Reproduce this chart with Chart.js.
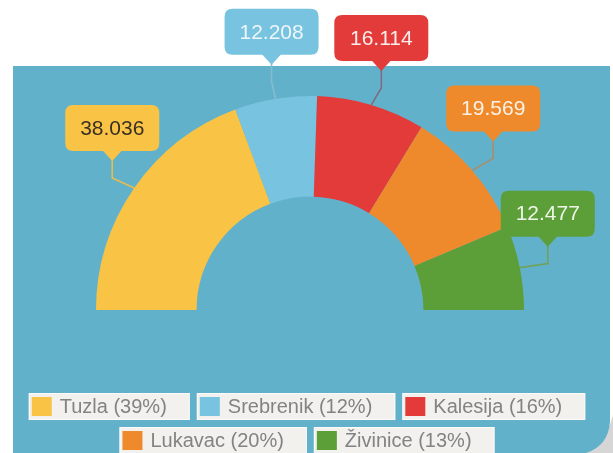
<!DOCTYPE html>
<html>
<head>
<meta charset="utf-8">
<title>Half doughnut</title>
<script src="https://cdn.jsdelivr.net/npm/chart.js@4/dist/chart.umd.min.js"></script>
<style>
  html, body { margin: 0; padding: 0; background: #fff; }
  #wrap { width: 613px; height: 453px; position: relative; }
</style>
</head>
<body>
<div id="wrap"><canvas id="chart1"></canvas></div>
<script>
// -------- DATA --------
const labels = ['Tuzla', 'Srebrenik', 'Kalesija', 'Lukavac', 'Živinice'];
const values = [38.036, 12.208, 16.114, 19.569, 12.477];
const valueLabels = ['38.036', '12.208', '16.114', '19.569', '12.477'];

// -------- STYLE --------
const colors = ['#F9C445', '#77C3E0', '#E33B3A', '#EE8A2B', '#5C9E38'];
const lineColors = ['#E5BC52', '#86BBCE', '#7E6C84', '#A98D6A', '#6FA25A'];
const textColors = ['#3B2F22', '#EEF6F9', '#FBEDEA', '#FCF1E4', '#EEF5E8'];
// box centre offset from the arc anchor point (px)
const calloutOffsets = [[-22, -60], [-4, -67], [10, -67], [21, -62], [28, -54]];
const PANEL = '#62B1CB';
const FONT = '"Liberation Sans", Arial, sans-serif';

const total = values.reduce((a, b) => a + b, 0);
const pct = values.map(v => Math.round(v / total * 100));

function roundRect(ctx, x, y, w, h, r){
  ctx.beginPath();
  ctx.moveTo(x + r, y);
  ctx.lineTo(x + w - r, y); ctx.quadraticCurveTo(x + w, y, x + w, y + r);
  ctx.lineTo(x + w, y + h - r); ctx.quadraticCurveTo(x + w, y + h, x + w - r, y + h);
  ctx.lineTo(x + r, y + h); ctx.quadraticCurveTo(x, y + h, x, y + h - r);
  ctx.lineTo(x, y + r); ctx.quadraticCurveTo(x, y, x + r, y);
  ctx.closePath();
}

// blue panel behind the chart
const panelPlugin = {
  id: 'panel',
  beforeDraw(chart){
    const ctx = chart.ctx;
    ctx.save();
    ctx.fillStyle = '#fff';
    ctx.fillRect(0, 0, chart.width, chart.height);
    ctx.fillStyle = '#D6D6D6';
    ctx.beginPath();
    ctx.moveTo(613, 415); ctx.lineTo(613, 453); ctx.lineTo(584, 453);
    ctx.quadraticCurveTo(606, 442, 613, 415);
    ctx.fill();
    ctx.fillStyle = PANEL;
    ctx.beginPath();
    ctx.moveTo(13, 66); ctx.lineTo(610, 66); ctx.lineTo(610, 422);
    ctx.quadraticCurveTo(608, 446, 586, 453);
    ctx.lineTo(13, 453);
    ctx.closePath();
    ctx.fill();
    ctx.restore();
  }
};

// value callouts pointing to each arc
const calloutPlugin = {
  id: 'callouts',
  afterDatasetsDraw(chart){
    const ctx = chart.ctx;
    const meta = chart.getDatasetMeta(0);
    const bw = 94, bh = 46, tri = 10;
    ctx.save();
    meta.data.forEach((arc, i) => {
      const p = arc.getProps(['x', 'y', 'startAngle', 'endAngle', 'outerRadius'], true);
      const mid = (p.startAngle + p.endAngle) / 2;
      const ax = p.x + p.outerRadius * Math.cos(mid);
      const ay = p.y + p.outerRadius * Math.sin(mid);
      const cx = ax + calloutOffsets[i][0];
      const cy = ay + calloutOffsets[i][1];
      const tipY = cy + bh / 2 + tri;
      const elbowY = tipY + Math.min(17, ay - tipY);

      ctx.strokeStyle = lineColors[i];
      ctx.lineWidth = 1.6;
      ctx.beginPath();
      ctx.moveTo(cx, tipY - 2);
      ctx.lineTo(cx, elbowY);
      ctx.lineTo(ax, ay);
      ctx.stroke();

      ctx.fillStyle = colors[i];
      roundRect(ctx, cx - bw / 2, cy - bh / 2, bw, bh, 8);
      ctx.fill();
      ctx.beginPath();
      ctx.moveTo(cx - 10, cy + bh / 2 - 1);
      ctx.lineTo(cx + 10, cy + bh / 2 - 1);
      ctx.lineTo(cx, tipY);
      ctx.closePath();
      ctx.fill();

      ctx.fillStyle = textColors[i];
      ctx.font = '21px ' + FONT;
      ctx.textAlign = 'center';
      ctx.textBaseline = 'middle';
      ctx.fillText(valueLabels[i], cx, cy + 1);
    });
    ctx.restore();
  }
};

// boxed legend, two centred rows
const legendPlugin = {
  id: 'boxLegend',
  afterDraw(chart){
    const ctx = chart.ctx;
    const meta = chart.getDatasetMeta(0);
    const centreX = meta.data[0].x - 3;
    const rows = [[0, 1, 2], [3, 4]];
    const rowTop = [393, 427];
    const h = 27, gap = 7;
    ctx.save();
    ctx.font = '20px ' + FONT;
    ctx.textBaseline = 'middle';
    ctx.textAlign = 'left';
    rows.forEach((row, r) => {
      const items = row.map(i => {
        const text = `${labels[i]} (${pct[i]}%)`;
        return { i, text, w: ctx.measureText(text).width + 54 };
      });
      const totalW = items.reduce((s, it) => s + it.w, 0) + gap * (items.length - 1);
      let x = centreX - totalW / 2;
      const y = rowTop[r];
      items.forEach(it => {
        ctx.fillStyle = '#F3F1EE';
        ctx.fillRect(x, y, it.w, h);
        ctx.strokeStyle = 'rgba(255,255,255,0.7)';
        ctx.lineWidth = 1;
        ctx.strokeRect(x + 0.5, y + 0.5, it.w - 1, h - 1);
        ctx.fillStyle = colors[it.i];
        ctx.fillRect(x + 3, y + 4, 20, 19);
        ctx.fillStyle = '#838383';
        ctx.fillText(it.text, x + 31, y + h / 2 + 1);
        x += it.w + gap;
      });
    });
    ctx.restore();
  }
};

const chart = new Chart(document.getElementById('chart1').getContext('2d'), {
  type: 'doughnut',
  data: {
    labels,
    datasets: [{
      data: values,
      backgroundColor: colors,
      borderWidth: 0,
      hoverOffset: 0
    }]
  },
  options: {
    responsive: true,
    maintainAspectRatio: false,
    animation: false,
    events: [],
    rotation: -90,
    circumference: 180,
    cutout: '53%',
    layout: { padding: { left: 96, right: 89, top: 96, bottom: 143 } },
    plugins: {
      legend: { display: false },
      tooltip: { enabled: false }
    }
  },
  plugins: [panelPlugin, calloutPlugin, legendPlugin]
});
</script>
</body>
</html>
